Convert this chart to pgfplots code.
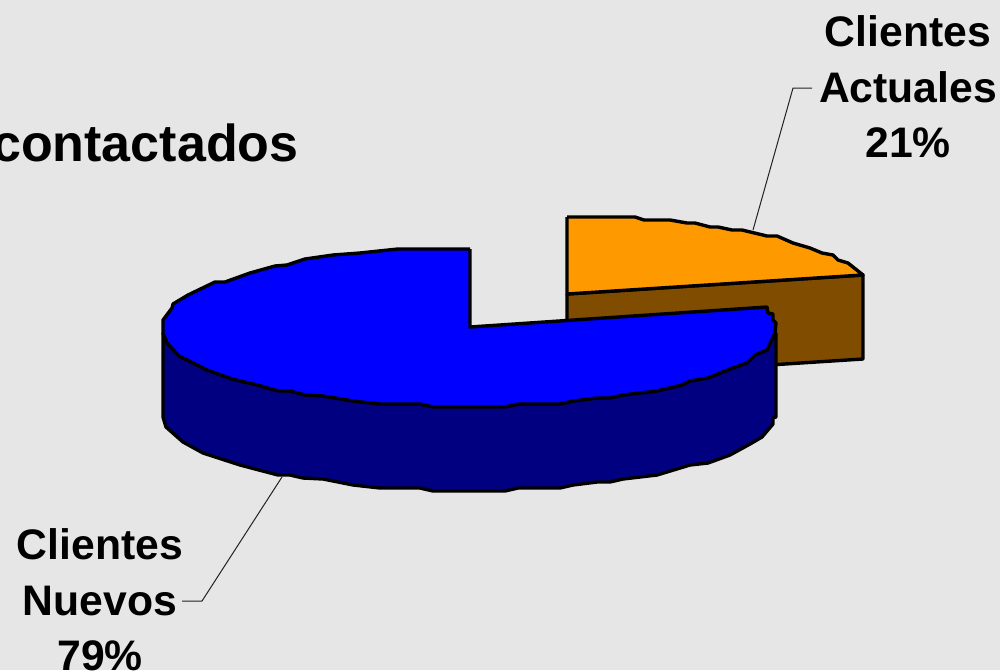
\documentclass[border=0pt]{standalone}
\usepackage{fontspec}
\setmainfont{Liberation Sans}
\usepackage{pgfplots}
\pgfplotsset{compat=1.18}
\definecolor{bgc}{HTML}{E6E6E6}
\definecolor{orangetop}{HTML}{FF9900}
\definecolor{orangeside}{HTML}{804C00}
\definecolor{bluetop}{HTML}{0000FF}
\definecolor{blueside}{HTML}{000080}
\definecolor{leader}{HTML}{222222}
\newcommand{\lbl}{\fontsize{42.7}{55.5}\selectfont\bfseries}
\begin{document}
\begin{tikzpicture}
\path[use as bounding box, clip] (0,0) rectangle (1000pt,670pt);
\fill[bgc] (0,0) rectangle (1000pt,670pt);
\begin{axis}[
	scale only axis,
	width=1000pt,
	height=670pt,
	xmin=0, xmax=1000,
	ymin=0, ymax=670,
	y dir=reverse,
	hide axis,
	clip=false,
	every axis plot/.append style={line join=round, no markers, line width=3.4pt, draw=black},
]
% Clientes Actuales 21%: side first, then top
\addplot[fill=orangeside] coordinates {(567,294) (863,275) (863,359) (567,378) (567,294)};
\addplot[fill=orangetop] coordinates {(567,217) (635,217) (644,220) (670,220) (687,223) (695,223) (710,227) (718,227) (732,230) (742,230) (767,236) (777,236) (793,243) (810,248) (822,253) (833,255) (838,260) (848,263) (863,275) (567,294) (567,217)};
% Clientes Nuevos 79%
\addplot[fill=blueside] coordinates {(163,333) (163,417) (166,427) (183,442) (203,453) (240,465) (278,475) (290,475) (303,478) (323,479) (353,485) (380,488) (420,488) (433,491) (505,491) (518,488) (560,488) (573,485) (597,482) (610,482) (623,479) (657,475) (690,465) (708,463) (730,455) (750,444) (762,437) (773,424) (773,418) (776,417) (776,333) (163,333)};
\addplot[fill=bluetop] coordinates {(470,249) (398,249) (360,253) (333,255) (305,259) (287,265) (275,266) (250,273) (225,282) (215,282) (188,295) (173,304) (172,308) (163,320) (163,333) (167,343) (179,356) (207,370) (232,379) (257,385) (278,391) (290,391) (305,395) (323,396) (353,401) (380,404) (420,404) (433,407) (505,407) (518,404) (560,404) (573,401) (597,398) (610,398) (623,395) (657,391) (682,385) (690,381) (708,378) (730,369) (747,363) (755,355) (767,350) (775,333) (776,323) (773,320) (773,314) (768,313) (767,307) (470,327) (470,249)};
% leader lines
\addplot[line width=1pt, draw=leader] coordinates {(753,230) (793,88) (812,88)};
\addplot[line width=1pt, draw=leader] coordinates {(282,477) (202,601) (182,601)};
\node[anchor=east, font=\fontsize{52}{55}\selectfont\bfseries] at (axis cs:302,143) {contactados};
\node[align=center, font=\lbl] at (axis cs:908,87) {Clientes\\Actuales\\21\%};
\node[align=center, font=\lbl] at (axis cs:100,600) {Clientes\\Nuevos\\79\%};
\end{axis}
\end{tikzpicture}
\end{document}
